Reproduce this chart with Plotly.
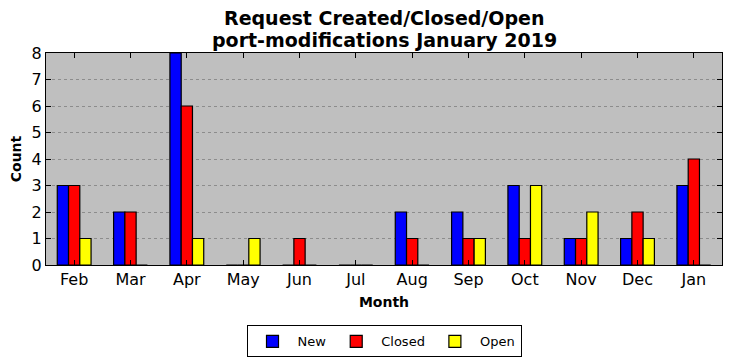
import plotly.graph_objects as go

months = ["Feb", "Mar", "Apr", "May", "Jun", "Jul", "Aug", "Sep", "Oct", "Nov", "Dec", "Jan"]
new_vals = [3, 2, 8, 0, 0, 0, 2, 2, 3, 1, 1, 3]
closed_vals = [3, 2, 6, 0, 1, 0, 1, 1, 1, 1, 2, 4]
open_vals = [1, 0, 1, 1, 0, 0, 0, 1, 3, 2, 1, 0]
y_ticks = [0, 1, 2, 3, 4, 5, 6, 7, 8]
title_lines = ["Request Created/Closed/Open", "port-modifications January 2019"]

FONT = "DejaVu Sans"

fig = go.Figure()
for name, vals, color in [("New", new_vals, "#0000ff"),
                          ("Closed", closed_vals, "#ff0000"),
                          ("Open", open_vals, "#ffff00")]:
    fig.add_trace(go.Bar(x=months, y=vals, name=name,
                         marker=dict(color=color, line=dict(color="black", width=1.2))))

for line, ypos in zip(title_lines, [1.165, 1.063]):
    fig.add_annotation(
        text="<b>" + line + "</b>",
        xref="paper", yref="paper", x=0.5, y=ypos, xanchor="center", yanchor="middle",
        showarrow=False, font=dict(size=19, family=FONT, color="black"),
    )

fig.update_layout(
    width=732, height=361,
    margin=dict(l=46, r=10, t=53, b=96, autoexpand=False),
    paper_bgcolor="white",
    plot_bgcolor="#bfbfbf",
    barmode="group",
    bargap=0.4,
    bargroupgap=0,
    font=dict(family=FONT, color="black"),
    xaxis=dict(
        title=dict(text="<b>Month</b>", font=dict(size=14, family=FONT), standoff=8),
        tickfont=dict(size=16, family=FONT),
        range=[-0.5, 11.5],
        automargin=False,
        showline=True, linecolor="black", linewidth=1.2, mirror="allticks",
        ticks="inside", ticklen=5, tickcolor="black",
        showgrid=False,
    ),
    yaxis=dict(
        title=dict(text="<b>Count</b>", font=dict(size=14, family=FONT), standoff=6),
        tickfont=dict(size=16, family=FONT),
        range=[0, 8],
        tickvals=y_ticks,
        automargin=False,
        showline=True, linecolor="black", linewidth=1.2, mirror="allticks",
        ticks="inside", ticklen=5, tickcolor="black",
        showgrid=True, gridcolor="#8c8c8c", griddash="dot", gridwidth=1,
        zeroline=False,
    ),
    legend=dict(
        orientation="h", x=0.5, xanchor="center", y=-0.285, yanchor="top",
        bordercolor="black", borderwidth=1, bgcolor="white",
        font=dict(size=13, family=FONT),
        itemwidth=40,
    ),
)

fig.write_html("out.html",
               config={"displayModeBar": False},
               post_script="document.body.style.margin='0';document.body.style.overflow='hidden';")
